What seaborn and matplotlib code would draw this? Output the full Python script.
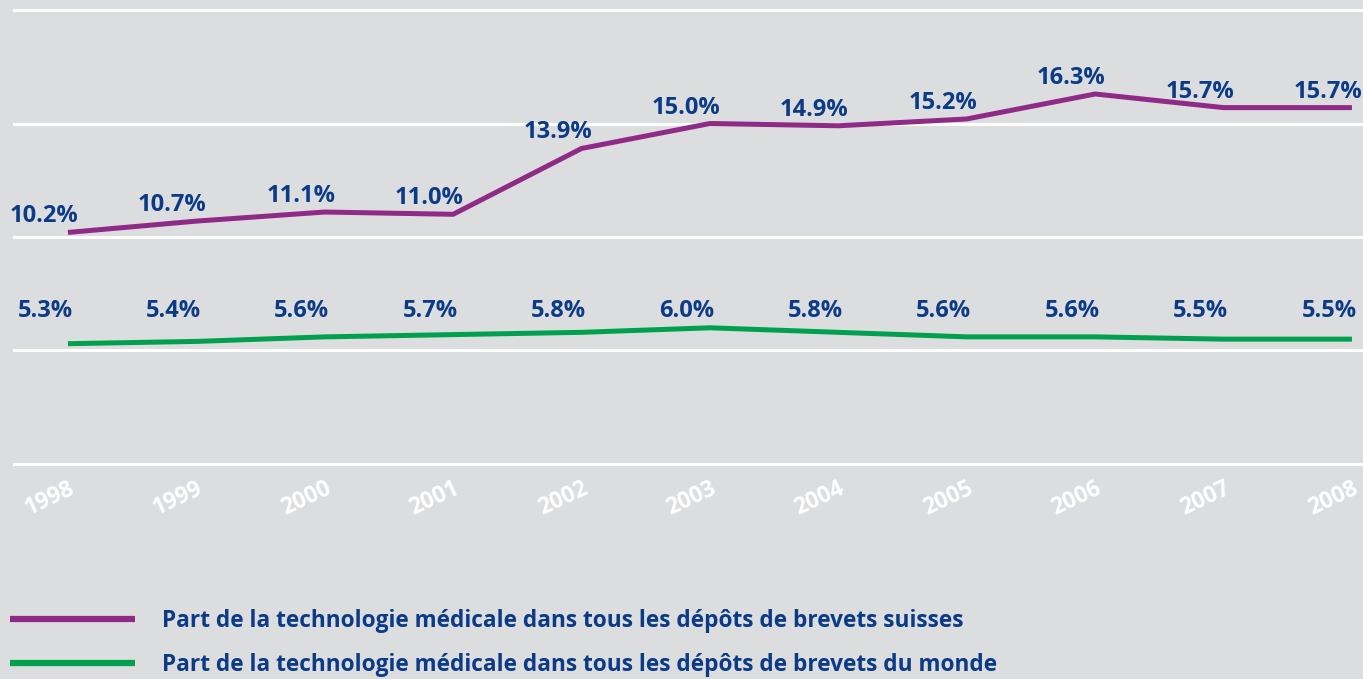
import numpy as np
import pandas as pd
import matplotlib
matplotlib.use("Agg")
import matplotlib.pyplot as plt
import seaborn as sns

# ─── DATA ─────────────────────────────────────────────────
years = [1998, 1999, 2000, 2001, 2002, 2003, 2004, 2005, 2006, 2007, 2008]
swiss_share = [10.2, 10.7, 11.1, 11.0, 13.9, 15.0, 14.9, 15.2, 16.3, 15.7, 15.7]
world_share = [5.3, 5.4, 5.6, 5.7, 5.8, 6.0, 5.8, 5.6, 5.6, 5.5, 5.5]
series_names = [
    "Part de la technologie médicale dans tous les dépôts de brevets suisses",
    "Part de la technologie médicale dans tous les dépôts de brevets du monde",
]

# ─── STYLE ────────────────────────────────────────────────
BG = "#dcdddf"
PURPLE = "#8f2a86"
GREEN = "#00a04e"
NAVY = "#0b3a87"

sns.set_theme(style="white")
plt.rcParams["font.family"] = ["Open Sans", "DejaVu Sans"]
plt.rcParams["font.weight"] = "bold"

df = pd.DataFrame({
    "year": years * 2,
    "share": swiss_share + world_share,
    "series": [series_names[0]] * len(years) + [series_names[1]] * len(years),
})

fig = plt.figure(figsize=(13.63, 6.79), dpi=100, facecolor=BG)
H = 679.0
ax = fig.add_axes([13 / 1363, 1 - 470.8 / H, 1 - 13 / 1363, (470.8 - 3.2) / H])
ax.set_facecolor(BG)

sns.lineplot(data=df, x="year", y="share", hue="series",
             palette=[PURPLE, GREEN], linewidth=3.6, ax=ax,
             solid_capstyle="butt", legend=True)

ax.set_xlim(1998 - 0.428, 2008 + 0.086)
ax.set_ylim(-0.3, 20.3)
ax.set_yticks([0, 5, 10, 15, 20])
ax.yaxis.grid(True, color="white", linewidth=2.2)
ax.set_axisbelow(True)
ax.set_yticklabels([])
ax.tick_params(axis="y", length=0)
for s in ax.spines.values():
    s.set_visible(False)
ax.set_xlabel("")
ax.set_ylabel("")

ax.set_xticks(years)
ax.set_xticklabels([str(y) for y in years], rotation=25, ha="right",
                   rotation_mode="anchor", color="white",
                   fontsize=16.5, fontweight="bold")
ax.tick_params(axis="x", length=0, pad=4)

# value labels
for x, v in zip(years, swiss_share):
    ax.annotate(f"{v:.1f}%", (x, v), xytext=(-24, 10), textcoords="offset pixels",
                ha="center", va="baseline", color=NAVY, fontsize=17, fontweight="bold")
for x, v in zip(years, world_share):
    ax.annotate(f"{v:.1f}%", (x, 6.48), xytext=(-23, 0), textcoords="offset pixels",
                ha="center", va="baseline", color=NAVY, fontsize=17, fontweight="bold")

# legend below the plot
handles, labels = ax.get_legend_handles_labels()
ax.get_legend().remove()
leg = fig.legend(handles, labels, loc="upper left",
                 bbox_to_anchor=(10 / 1363, 1 - 609 / H), frameon=False,
                 borderaxespad=0, borderpad=0,
                 handlelength=5.5, handletextpad=1.2, labelspacing=0.88,
                 prop={"size": 16.3, "weight": "bold"})
for t in leg.get_texts():
    t.set_color(NAVY)
for ln in leg.get_lines():
    ln.set_linewidth(4.5)

fig.savefig("out.png", dpi=100, facecolor=BG)
